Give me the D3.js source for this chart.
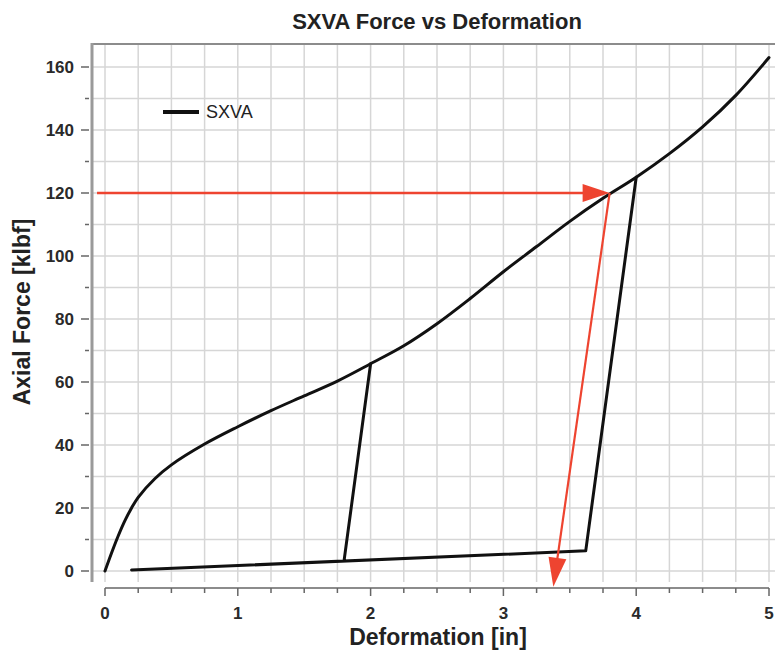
<!DOCTYPE html>
<html>
<head>
<meta charset="utf-8">
<script src="https://cdn.jsdelivr.net/npm/d3@7"></script>
<style>
  html, body { margin: 0; padding: 0; background: #fff; }
  svg { display: block; font-family: "Liberation Sans", Arial, sans-serif; }
</style>
</head>
<body>
<svg id="chart" width="775" height="654"></svg>
<script>
// Loading backbone of the SXVA element (deformation in, axial force kips)
const backboneX = [0, 0.05, 0.1, 0.15, 0.2, 0.25, 0.375, 0.5, 0.75, 1.0, 1.25, 1.5, 1.75, 2.0, 2.25, 2.5, 2.75, 3.0, 3.25, 3.5, 3.75, 4.0, 4.25, 4.5, 4.75, 5.0];
const backboneY = [0, 5.8, 11.2, 16, 20, 23.4, 29.3, 33.7, 40.3, 45.8, 50.9, 55.6, 60.3, 65.8, 71.5, 78.5, 86.5, 95, 103, 111, 118.3, 125, 132.5, 141, 151, 163];

// Unload / reload cycle
const cycleX = [2.0, 1.8, 0.2, 3.62, 4.0];
const cycleY = [65.8, 3.2, 0.3, 6.4, 125];

// Reading guide: 120 kip demand -> deformation
const guideX = [-0.06, 3.8, 3.376];
const guideY = [120, 120, -5];

const xMajorTicks = [0, 1, 2, 3, 4, 5];
const xMinorTicks = d3.range(0, 5.001, 0.25);
const yMajorTicks = [0, 20, 40, 60, 80, 100, 120, 140, 160];
const yMinorTicks = d3.range(0, 160.001, 10);

const legendLabel = "SXVA";
const titleText = "SXVA Force vs Deformation";
const xTitle = "Deformation [in]";
const yTitle = "Axial Force [klbf]";

const svg = d3.select("#chart");

const x = d3.scaleLinear().domain([0, 5]).range([105, 769]);
const y = d3.scaleLinear().domain([0, 160]).range([571, 67]);

const frame = { left: 92, right: 775, top: 44, bottom: 582 };
const gridColor = "#d6d6d6";
const axisColor = "#8c8c8c";
const red = "#ee4430";

// grid
const grid = svg.append("g");
grid.selectAll("line.v").data(xMinorTicks).join("line")
  .attr("x1", d => x(d)).attr("x2", d => x(d))
  .attr("y1", frame.top).attr("y2", frame.bottom)
  .attr("stroke", gridColor).attr("stroke-width", 1.5);
grid.selectAll("line.h").data(yMinorTicks).join("line")
  .attr("x1", frame.left).attr("x2", frame.right)
  .attr("y1", d => y(d)).attr("y2", d => y(d))
  .attr("stroke", gridColor).attr("stroke-width", 1.5);

// frame top
svg.append("line")
  .attr("x1", frame.left).attr("x2", frame.right)
  .attr("y1", frame.top).attr("y2", frame.top)
  .attr("stroke", axisColor).attr("stroke-width", 2);

// y axis (left spine + ticks)
svg.append("line")
  .attr("x1", frame.left).attr("x2", frame.left)
  .attr("y1", frame.top - 1).attr("y2", frame.bottom)
  .attr("stroke", "#9a9a9a").attr("stroke-width", 3);
const yAxis = svg.append("g");
yAxis.selectAll("line").data(yMinorTicks).join("line")
  .attr("x1", d => yMajorTicks.includes(d) ? 81 : 85).attr("x2", 89)
  .attr("y1", d => y(d)).attr("y2", d => y(d))
  .attr("stroke", "#666").attr("stroke-width", 1.5);
yAxis.selectAll("text").data(yMajorTicks).join("text")
  .attr("x", 74).attr("y", d => y(d))
  .attr("dy", "0.36em")
  .attr("text-anchor", "end")
  .attr("font-size", 17).attr("font-weight", "bold").attr("fill", "#2a2a2a")
  .text(d => d);

// x axis (detached, below plot)
const xAxisY = 588;
svg.append("line")
  .attr("x1", x(0)).attr("x2", x(5))
  .attr("y1", xAxisY).attr("y2", xAxisY)
  .attr("stroke", axisColor).attr("stroke-width", 2);
const xAxis = svg.append("g");
xAxis.selectAll("line").data(xMinorTicks).join("line")
  .attr("x1", d => x(d)).attr("x2", d => x(d))
  .attr("y1", xAxisY).attr("y2", d => xMajorTicks.includes(d) ? xAxisY + 8 : xAxisY + 5)
  .attr("stroke", "#666").attr("stroke-width", 1.5);
xAxis.selectAll("text").data(xMajorTicks).join("text")
  .attr("x", d => x(d)).attr("y", 619)
  .attr("text-anchor", "middle")
  .attr("font-size", 17).attr("font-weight", "bold").attr("fill", "#2a2a2a")
  .text(d => d);

// curves
const smooth = d3.line().x(d => x(d[0])).y(d => y(d[1])).curve(d3.curveCatmullRom.alpha(0.5));
const straight = d3.line().x(d => x(d[0])).y(d => y(d[1]));
const backbone = backboneX.map((v, i) => [v, backboneY[i]]);
const cycle = cycleX.map((v, i) => [v, cycleY[i]]);

svg.append("path").attr("d", smooth(backbone))
  .attr("fill", "none").attr("stroke", "#111").attr("stroke-width", 3)
  .attr("stroke-linejoin", "round").attr("stroke-linecap", "round");
svg.append("path").attr("d", straight(cycle))
  .attr("fill", "none").attr("stroke", "#111").attr("stroke-width", 3)
  .attr("stroke-linejoin", "round").attr("stroke-linecap", "round");

// red guide arrows
function arrow(x0, y0, x1, y1, width, headLen, headHalf) {
  const dx = x1 - x0, dy = y1 - y0;
  const len = Math.hypot(dx, dy);
  const ux = dx / len, uy = dy / len;
  const bx = x1 - ux * headLen, by = y1 - uy * headLen;
  svg.append("line")
    .attr("x1", x0).attr("y1", y0).attr("x2", bx + ux * 2).attr("y2", by + uy * 2)
    .attr("stroke", red).attr("stroke-width", width);
  svg.append("polygon")
    .attr("points", [
      [x1, y1],
      [bx - uy * headHalf, by + ux * headHalf],
      [bx + uy * headHalf, by - ux * headHalf]
    ].map(p => p.join(",")).join(" "))
    .attr("fill", red);
}
arrow(x(guideX[0]), y(guideY[0]), x(guideX[1]), y(guideY[1]), 2.5, 27, 9);
arrow(x(guideX[1]), y(guideY[1]), x(guideX[2]), y(guideY[2]), 2.2, 29, 9);

// legend
svg.append("line")
  .attr("x1", 163).attr("x2", 199).attr("y1", 112).attr("y2", 112)
  .attr("stroke", "#111").attr("stroke-width", 4);
svg.append("text")
  .attr("x", 206).attr("y", 112).attr("dy", "0.36em")
  .attr("font-size", 18).attr("fill", "#222")
  .text(legendLabel);

// titles
svg.append("text")
  .attr("x", 437).attr("y", 29)
  .attr("text-anchor", "middle")
  .attr("font-size", 22).attr("font-weight", "bold").attr("fill", "#222")
  .text(titleText);
svg.append("text")
  .attr("x", 438).attr("y", 645)
  .attr("text-anchor", "middle")
  .attr("font-size", 23).attr("font-weight", "bold").attr("fill", "#222")
  .text(xTitle);
svg.append("text")
  .attr("transform", "translate(30,312) rotate(-90)")
  .attr("text-anchor", "middle")
  .attr("font-size", 23).attr("font-weight", "bold").attr("fill", "#222")
  .text(yTitle);
</script>
</body>
</html>
